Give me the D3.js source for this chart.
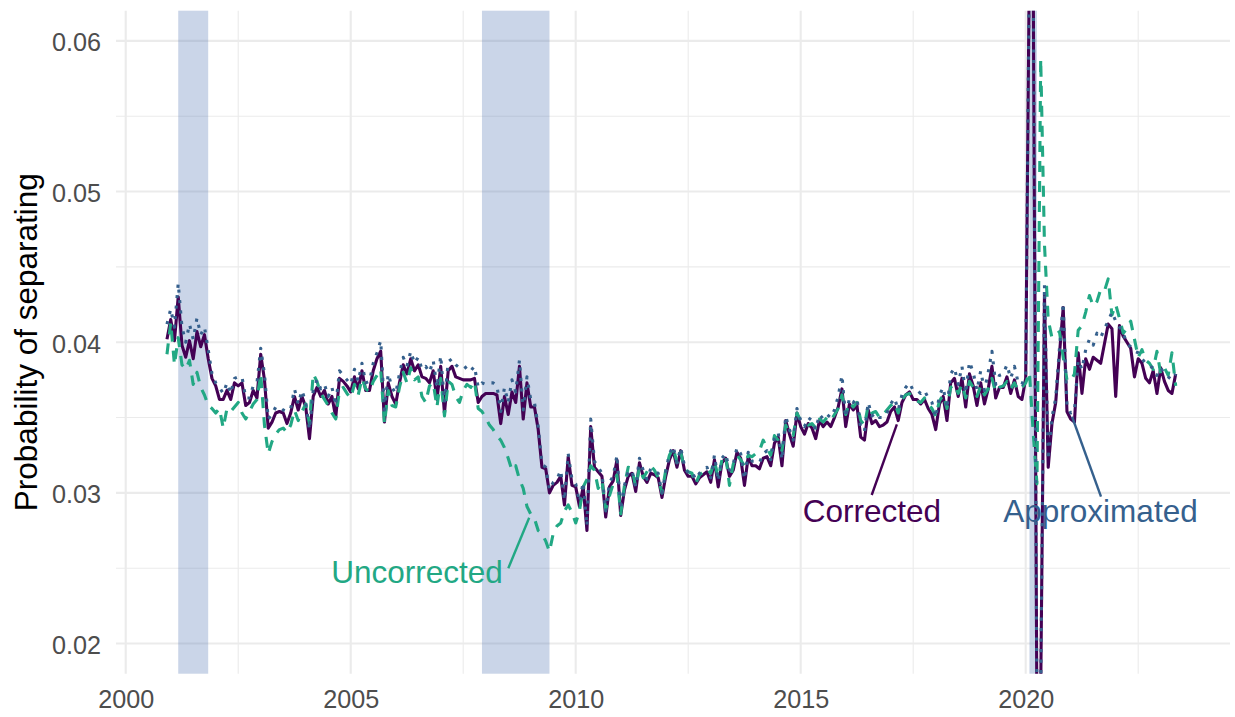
<!DOCTYPE html>
<html lang="en">
<head>
    <meta charset="UTF-8">
    <title>Probability of separating</title>
    <script src="https://d3js.org/d3.v7.min.js"></script>
    <style>
        body { margin: 0; background: #fff; }
        svg text { font-family: "Liberation Sans", Arial, sans-serif; }
    </style>
</head>
<body>
    <svg></svg>
    <script>
        // monthly observations, Dec 2000 .. May 2023, in per-mille (0.1 = 0.0001)
        const firstYear = 2000, firstMonth = 12;

        const corrected = [
            40.2,
            41.5, 40.1, 43.0, 39.8, 39.0, 40.1, 38.9, 40.7, 39.7, 40.5, 38.9, 37.6,
            37.1, 36.2, 36.2, 36.8, 36.2, 37.3, 37.1, 37.3, 35.8, 36.0, 36.8, 36.3,
            39.2, 37.5, 34.3, 34.7, 35.3, 35.4, 35.3, 34.6, 35.3, 36.4, 35.5, 36.4,
            35.7, 33.6, 36.4, 37.0, 36.4, 36.8, 35.9, 36.4, 35.0, 37.6, 37.4, 37.1,
            36.7, 37.7, 36.9, 38.1, 36.8, 36.8, 38.1, 38.9, 39.4, 34.7, 37.3, 36.4,
            35.9, 37.3, 38.5, 37.9, 38.9, 38.1, 38.5, 37.7, 37.6, 37.3, 38.1, 36.2,
            38.4, 35.3, 38.1, 38.4, 37.7, 37.6, 37.5, 37.5, 37.5, 37.6, 36.0, 36.4,
            36.6, 36.6, 36.6, 36.5, 34.6, 36.4, 35.2, 36.7, 36.0, 38.4, 34.9, 37.3,
            35.7, 35.7, 34.2, 31.7, 31.6, 30.0, 30.5, 30.7, 31.1, 29.2, 32.4, 30.5,
            30.4, 29.1, 30.4, 27.5, 34.4, 31.7, 31.4, 31.1, 28.4, 30.4, 30.8, 32.2,
            28.5, 30.2, 31.1, 31.3, 30.1, 32.0, 31.1, 30.7, 31.3, 31.2, 31.0, 29.7,
            31.1, 32.2, 32.8, 31.7, 32.8, 31.5, 31.1, 31.1, 30.6, 31.0, 31.2, 31.4,
            30.7, 32.2, 30.4, 32.0, 32.3, 31.1, 31.5, 32.7, 32.3, 30.5, 32.4, 31.8,
            31.8, 31.6, 32.3, 32.4, 31.8, 33.3, 33.7, 31.8, 34.8, 33.9, 33.1, 35.3,
            34.4, 33.9, 34.6, 34.3, 33.6, 34.8, 34.4, 34.7, 34.4, 35.0, 35.7, 36.9,
            34.4, 35.9, 35.5, 35.8, 33.7, 33.5, 35.5, 34.6, 34.8, 34.4, 34.5, 34.7,
            35.4, 35.7, 34.8, 36.0, 36.5, 36.7, 36.2, 36.2, 35.9, 36.2, 35.6, 35.2,
            34.2, 35.9, 36.4, 34.8, 37.3, 37.6, 36.4, 37.6, 35.7, 37.9, 37.1, 35.8,
            37.3, 35.9, 36.9, 38.4, 36.3, 37.0, 37.0, 37.7, 36.6, 37.5, 36.4, 36.2,
            37.6, 66.0, 64.4, 15.0, 16.8, 43.1, 31.7, 34.6, 36.0, 39.2, 42.3, 35.4,
            34.9, 34.7, 39.3, 36.6, 38.9, 38.2, 39.0, 38.8, 38.6, 39.9, 41.2, 40.9,
            36.4, 41.1, 40.4, 40.0, 39.6, 37.7, 38.9, 38.6, 37.6, 37.3, 38.1, 36.6,
            38.3, 37.4, 36.8, 36.6, 37.9
        ];

        const uncorrected = [
            39.2,
            41.3, 38.5, 40.3, 38.5, 38.2, 38.8, 37.2, 38.0, 37.0, 36.5, 35.8, 35.6,
            35.3, 35.6, 34.3, 35.6, 35.4, 35.7, 36.0, 35.3, 34.9, 35.4, 35.9, 36.2,
            37.9, 34.5, 32.6, 33.4, 33.9, 34.2, 34.3, 34.0, 34.5, 35.5, 34.8, 35.4,
            35.9, 34.6, 37.9, 37.4, 36.6, 36.2, 35.8, 35.3, 34.9, 36.8, 37.0, 36.6,
            36.3, 37.2, 36.5, 37.6, 36.9, 36.7, 37.4, 37.8, 38.2, 34.6, 36.8, 35.8,
            35.7, 37.0, 38.0, 37.3, 38.3, 37.5, 37.7, 36.4, 36.0, 37.1, 37.3, 35.7,
            37.6, 35.1, 37.4, 37.2, 36.4, 36.0, 36.8, 37.2, 37.0, 37.4, 35.6, 35.4,
            35.0, 34.5, 34.2, 33.8, 33.5, 33.0, 32.3, 31.5, 31.8, 30.9, 30.3, 29.1,
            28.6, 28.3, 27.5, 27.3, 26.8, 26.1, 27.3, 27.8, 28.0, 28.8, 29.2, 28.7,
            28.0, 28.8, 30.4, 30.9, 31.8, 31.5, 30.3, 30.8, 28.9, 29.8, 30.6, 31.2,
            28.6, 30.5, 31.7, 31.6, 30.4, 31.7, 31.0, 31.4, 31.8, 31.5, 31.0, 30.0,
            31.5, 32.5, 33.0, 32.0, 32.7, 31.6, 31.4, 31.3, 30.6, 31.2, 31.4, 31.6,
            31.3, 32.1, 31.0, 32.2, 32.5, 30.5, 31.9, 32.5, 32.2, 31.8, 32.5, 32.4,
            32.6, 32.8, 33.5, 33.0, 32.5, 33.8, 33.5, 32.8, 34.5, 34.0, 33.8, 35.3,
            34.8, 34.6, 34.5, 34.6, 34.3, 34.9, 34.7, 35.0, 34.8, 35.2, 35.6, 36.5,
            35.2, 36.0, 35.7, 36.0, 34.8, 34.5, 35.8, 35.3, 35.4, 35.0, 35.2, 35.5,
            35.8, 36.0, 35.3, 36.2, 36.5, 36.6, 36.3, 36.1, 36.0, 36.3, 35.9, 35.6,
            35.1, 36.1, 36.5, 35.6, 37.0, 37.2, 36.6, 37.2, 36.3, 37.4, 37.0, 36.4,
            37.1, 36.5, 36.9, 37.6, 36.7, 37.0, 37.1, 37.4, 36.9, 37.3, 36.8, 37.0,
            37.3, 38.0, 34.0, 30.6, 58.8, 46.5, 41.5, 40.3, 40.5, 40.7, 39.0, 37.5,
            37.4, 37.9, 40.8, 41.1, 42.0, 43.1, 42.4, 42.7, 43.5, 43.4, 44.2, 41.8,
            42.5, 41.6, 40.6, 40.9, 41.4, 40.2, 39.0, 39.5, 38.8, 38.6, 38.2, 39.4,
            37.9, 38.3, 37.8, 39.3, 37.1
        ];

        const approximated = [
            41.2,
            42.2, 41.0, 43.9, 41.0, 40.0, 41.2, 40.2, 41.6, 40.5, 41.0, 39.5, 37.9,
            37.3, 37.0, 36.6, 37.3, 36.6, 37.6, 37.7, 37.7, 36.3, 36.3, 37.1, 37.3,
            39.6, 37.9, 34.9, 35.2, 35.7, 35.7, 35.5, 35.4, 35.6, 36.9, 35.9, 36.8,
            36.0, 34.2, 36.8, 37.5, 36.9, 37.2, 36.4, 37.0, 35.8, 38.1, 37.8, 37.5,
            37.2, 38.2, 37.4, 38.6, 37.3, 37.4, 38.6, 39.3, 40.1, 35.5, 37.9, 37.0,
            36.6, 37.9, 39.0, 38.4, 39.4, 38.6, 39.0, 38.2, 38.4, 38.0, 38.8, 37.0,
            39.1, 36.0, 38.7, 38.9, 38.5, 38.3, 38.2, 38.4, 38.1, 38.4, 37.0, 37.3,
            37.2, 37.3, 37.3, 37.1, 35.4, 37.0, 36.0, 37.5, 36.7, 38.8, 35.5, 37.7,
            36.2, 36.0, 34.4, 31.9, 31.7, 30.2, 30.7, 30.9, 31.5, 29.5, 32.6, 30.9,
            30.6, 29.4, 30.7, 27.8, 34.9, 32.1, 31.7, 31.3, 28.8, 30.7, 31.1, 32.5,
            28.9, 30.5, 31.4, 31.5, 30.4, 32.3, 31.5, 30.9, 31.6, 31.4, 31.3, 30.0,
            31.4, 32.6, 33.1, 32.0, 33.0, 31.8, 31.3, 31.4, 30.9, 31.3, 31.5, 31.7,
            31.0, 32.5, 30.8, 32.3, 32.6, 31.5, 31.9, 33.0, 32.6, 30.9, 32.7, 32.1,
            32.1, 32.0, 32.6, 32.8, 32.2, 33.6, 34.0, 32.2, 35.1, 34.2, 33.5, 35.6,
            34.8, 34.4, 35.0, 34.8, 34.2, 35.2, 34.9, 35.2, 35.0, 35.5, 36.4, 37.8,
            35.0, 36.3, 36.0, 36.3, 34.3, 34.1, 36.0, 35.1, 35.3, 35.0, 35.0, 35.3,
            35.9, 36.3, 35.5, 36.5, 37.0, 37.3, 36.8, 36.8, 36.6, 36.8, 36.3, 36.0,
            35.0, 36.5, 37.0, 35.6, 37.9, 38.3, 37.2, 38.4, 36.6, 38.7, 38.0, 36.8,
            38.1, 36.8, 38.0, 39.4, 37.2, 37.8, 37.9, 38.5, 37.6, 38.4, 37.3, 37.2,
            37.9, 66.4, 64.6, 15.4, 16.9, 43.8, 32.2, 35.0, 36.3, 39.6, 42.6, 35.8,
            35.3, 35.4, 38.8, 38.2, 39.5, 40.2, 39.8, 40.6, 40.3, 40.9, 41.4, 42.0,
            41.4, 41.0, 40.6, 39.9, 39.7, 39.4, 39.3, 38.9, 38.6, 38.4, 38.3, 37.8,
            38.3, 37.9, 37.7, 37.5, 37.9
        ];

        // NBER recessions (decimal years)
        const recessionStart = [2001.167, 2007.917, 2020.083];
        const recessionEnd   = [2001.833, 2009.417, 2020.25];

        const xTicks = [2000, 2005, 2010, 2015, 2020];
        const xMinorTicks = [2002.5, 2007.5, 2012.5, 2017.5, 2022.5];
        const yTicks = [0.02, 0.03, 0.04, 0.05, 0.06];
        const yMinorTicks = [0.025, 0.035, 0.045, 0.055];

        // direct labels: centre of text, start of pointer, and the observation it points at
        const labelText   = ["Corrected", "Uncorrected", "Approximated"];
        const labelCentre = [[2016.584, 0.02880], [2006.473, 0.02472], [2021.662, 0.02880]];
        const labelStart  = [[2016.578, 0.02986], [2008.502, 0.02500], [2021.673, 0.02975]];
        const labelTarget = ["2017-03", "2009-01", "2021-01"];

        const width = 1235, height = 717;
        const panel = { left: 116, right: 1230, top: 10.7, bottom: 673.7 };

        const seriesNames = ["Corrected", "Uncorrected", "Approximated"];
        const seriesValues = [corrected, uncorrected, approximated];
        const colors = { Corrected: "#440154", Approximated: "#35608D", Uncorrected: "#22A884" };
        const dashes = { Corrected: null, Approximated: "3.1,7.4", Uncorrected: "11,9" };

        // decimal year of observation i
        const timeOf = i => firstYear + (firstMonth - 1) / 12 + i / 12;
        const indexOf = ym => {
            const [yy, mm] = ym.split("-").map(Number);
            return (yy - firstYear) * 12 + (mm - firstMonth);
        };

        const svg = d3.select("svg")
            .attr("width", width)
            .attr("height", height)
            .style("background", "#fff");

        const x = d3.scaleLinear()
            .domain([1999.784, 2024.54])
            .range([panel.left, panel.right]);
        const y = d3.scaleLinear()
            .domain([0.018, 0.062])
            .range([panel.bottom, panel.top]);

        svg.append("clipPath").attr("id", "panel-clip")
            .append("rect")
            .attr("x", panel.left).attr("y", panel.top)
            .attr("width", panel.right - panel.left)
            .attr("height", panel.bottom - panel.top);

        // grid
        const grid = svg.append("g").attr("stroke", "#EBEBEB").attr("fill", "none");
        grid.selectAll(".vminor").data(xMinorTicks).join("line")
            .attr("x1", d => x(d)).attr("x2", d => x(d))
            .attr("y1", panel.top).attr("y2", panel.bottom)
            .attr("stroke-width", 1.1);
        grid.selectAll(".hminor").data(yMinorTicks).join("line")
            .attr("y1", d => y(d)).attr("y2", d => y(d))
            .attr("x1", panel.left).attr("x2", panel.right)
            .attr("stroke-width", 1.1);
        grid.selectAll(".vmajor").data(xTicks).join("line")
            .attr("x1", d => x(d)).attr("x2", d => x(d))
            .attr("y1", panel.top).attr("y2", panel.bottom)
            .attr("stroke-width", 2.1);
        grid.selectAll(".hmajor").data(yTicks).join("line")
            .attr("y1", d => y(d)).attr("y2", d => y(d))
            .attr("x1", panel.left).attr("x2", panel.right)
            .attr("stroke-width", 2.1);

        // recession shading
        svg.append("g").selectAll("rect")
            .data(recessionStart.map((s, i) => [s, recessionEnd[i]]))
            .join("rect")
            .attr("x", d => x(d[0]))
            .attr("width", d => x(d[1]) - x(d[0]))
            .attr("y", panel.top)
            .attr("height", panel.bottom - panel.top)
            .attr("fill", "#4E73B2")
            .attr("fill-opacity", 0.3);

        // lines
        const line = d3.line()
            .x((d, i) => x(timeOf(i)))
            .y(d => y(d / 1000));

        svg.append("g")
            .attr("clip-path", "url(#panel-clip)")
            .selectAll("path")
            .data(seriesNames.map((name, k) => ({ name, values: seriesValues[k] })))
            .join("path")
            .attr("d", d => line(d.values))
            .attr("fill", "none")
            .attr("stroke", d => colors[d.name])
            .attr("stroke-width", 3.1)
            .attr("stroke-linejoin", "round")
            .attr("stroke-linecap", "butt")
            .attr("stroke-dasharray", d => dashes[d.name]);

        // axes (labels only, ggplot minimal style)
        const yAxis = svg.append("g")
            .attr("transform", `translate(${panel.left},0)`)
            .call(d3.axisLeft(y).tickValues(yTicks).tickFormat(d3.format(".2f"))
                .tickSize(0).tickPadding(15));
        const xAxis = svg.append("g")
            .attr("transform", `translate(0,${panel.bottom})`)
            .call(d3.axisBottom(x).tickValues(xTicks).tickFormat(d3.format("d"))
                .tickSize(0).tickPadding(16.3));
        [xAxis, yAxis].forEach(a => {
            a.select(".domain").remove();
            a.selectAll("text")
                .attr("fill", "#4D4D4D")
                .style("font-size", "25.2px")
                .style("font-family", "'Liberation Sans', Arial, sans-serif");
        });
        yAxis.selectAll("text").attr("dy", "0.4em");

        svg.append("text")
            .attr("transform", `translate(37,${(panel.top + panel.bottom) / 2}) rotate(-90)`)
            .attr("text-anchor", "middle")
            .attr("fill", "#000")
            .style("font-size", "31.5px")
            .text("Probability of separating");

        // direct labels with pointers
        labelText.forEach((name, k) => {
            const vals = seriesValues[seriesNames.indexOf(name)];
            const idx = indexOf(labelTarget[k]);
            const px = x(timeOf(idx)), py = y(vals[idx] / 1000);
            const sx = x(labelStart[k][0]), sy = y(labelStart[k][1]);
            const len = Math.hypot(px - sx, py - sy);
            const ex = px - (px - sx) / len * 4, ey = py - (py - sy) / len * 4;
            svg.append("line")
                .attr("x1", sx).attr("y1", sy)
                .attr("x2", ex).attr("y2", ey)
                .attr("stroke", colors[name])
                .attr("stroke-width", 2.4);
            svg.append("text")
                .attr("x", x(labelCentre[k][0]))
                .attr("y", y(labelCentre[k][1]))
                .attr("dy", "0.35em")
                .attr("text-anchor", "middle")
                .attr("fill", colors[name])
                .style("font-size", "31.5px")
                .text(name);
        });
    </script>
</body>
</html>
